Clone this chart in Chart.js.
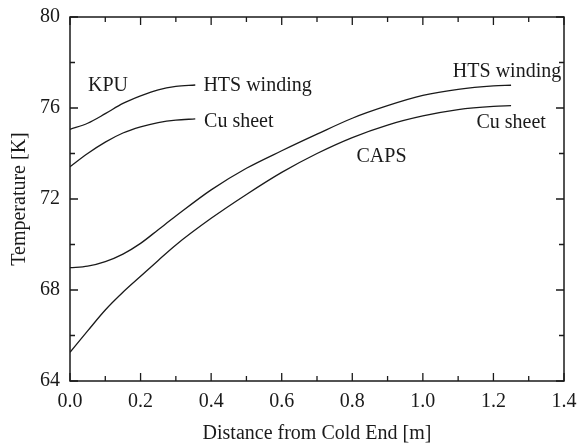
<!DOCTYPE html>
<html>
<head>
<meta charset="utf-8">
<script src="https://cdn.jsdelivr.net/npm/chart.js@4.4.0/dist/chart.umd.min.js"></script>
<style>
  html, body { margin: 0; padding: 0; background: #fff; }
  canvas { display: block; }
</style>
</head>
<body>
<canvas id="chart" width="579" height="444"></canvas>
<script>
// distance from cold end [m] and temperature [K]
const kpuX = [0, 0.05, 0.1, 0.15, 0.2, 0.25, 0.3, 0.355];
const kpuHts = [75.06, 75.33, 75.75, 76.2, 76.53, 76.8, 76.95, 77.01];
const kpuCu = [73.42, 74.0, 74.5, 74.9, 75.17, 75.36, 75.47, 75.52];

const capsX = [0, 0.05, 0.1, 0.15, 0.2, 0.25, 0.3, 0.4, 0.5, 0.6, 0.7, 0.8, 0.9, 1.0, 1.1, 1.2, 1.25];
const capsHts = [68.98, 69.05, 69.25, 69.58, 70.05, 70.65, 71.25, 72.4, 73.35, 74.12, 74.85, 75.55, 76.1, 76.55, 76.82, 76.97, 77.0];
const capsCu = [65.26, 66.2, 67.12, 67.9, 68.6, 69.3, 69.98, 71.15, 72.2, 73.17, 74.0, 74.7, 75.25, 75.65, 75.93, 76.07, 76.1];

const xTicks = [0, 0.2, 0.4, 0.6, 0.8, 1.0, 1.2, 1.4];
const yTicks = [64, 68, 72, 76, 80];

// text labels inside the plot (data coords, left edge / baseline)
const notes = [
    { text: 'KPU', x: 0.051, y: 76.73 },
    { text: 'HTS winding', x: 0.378, y: 76.76 },
    { text: 'Cu sheet', x: 0.38, y: 75.15 },
    { text: 'HTS winding', x: 1.085, y: 77.36 },
    { text: 'Cu sheet', x: 1.152, y: 75.11 },
    { text: 'CAPS', x: 0.812, y: 73.64 },
];

const FONT = 'Liberation Serif';
const INK = '#1a1a1a';

const toPoints = (xs, ys) => xs.map((x, i) => ({ x, y: ys[i] }));

// frame with inward ticks on all four sides
const frameTicks = {
    id: 'frameTicks',
    afterDraw(chart) {
        const { ctx, chartArea: a, scales: { x, y } } = chart;
        ctx.save();
        ctx.strokeStyle = INK;
        ctx.lineWidth = 1.5;
        ctx.strokeRect(a.left, a.top, a.right - a.left, a.bottom - a.top);
        ctx.lineWidth = 1.3;
        ctx.beginPath();
        for (let i = 0; i <= 14; i++) {
            const px = x.getPixelForValue(i / 10);
            const len = i % 2 === 0 ? 8 : 5;
            ctx.moveTo(px, a.bottom); ctx.lineTo(px, a.bottom - len);
            ctx.moveTo(px, a.top); ctx.lineTo(px, a.top + len);
        }
        for (let v = 64; v <= 80; v += 2) {
            const py = y.getPixelForValue(v);
            const len = v % 4 === 0 ? 8 : 5;
            ctx.moveTo(a.left, py); ctx.lineTo(a.left + len, py);
            ctx.moveTo(a.right, py); ctx.lineTo(a.right - len, py);
        }
        ctx.stroke();

        ctx.fillStyle = INK;
        ctx.font = '20px "' + FONT + '"';
        ctx.textAlign = 'left';
        ctx.textBaseline = 'alphabetic';
        notes.forEach(n => {
            ctx.fillText(n.text, x.getPixelForValue(n.x), y.getPixelForValue(n.y));
        });
        ctx.restore();
    }
};

const line = data => ({
    data,
    borderColor: INK,
    borderWidth: 1.3,
    pointRadius: 0,
    showLine: true,
    fill: false,
    cubicInterpolationMode: 'monotone',
});

new Chart(document.getElementById('chart'), {
    type: 'scatter',
    data: {
        datasets: [
            line(toPoints(kpuX, kpuHts)),
            line(toPoints(kpuX, kpuCu)),
            line(toPoints(capsX, capsHts)),
            line(toPoints(capsX, capsCu)),
        ]
    },
    options: {
        responsive: false,
        animation: false,
        layout: { padding: { top: 17, right: 15, left: 0, bottom: 0 } },
        plugins: { legend: { display: false }, tooltip: { enabled: false } },
        scales: {
            x: {
                type: 'linear',
                min: 0,
                max: 1.4,
                afterFit(scale) { scale.height = 63; },
                afterBuildTicks(scale) { scale.ticks = xTicks.map(value => ({ value })); },
                grid: { display: false },
                border: { display: false },
                ticks: {
                    padding: 1,
                    color: INK,
                    font: { family: FONT, size: 20 },
                    callback: v => Number(v).toFixed(1),
                },
                title: {
                    display: true,
                    text: 'Distance from Cold End [m]',
                    color: INK,
                    font: { family: FONT, size: 20, lineHeight: 1 },
                    padding: 0,
                },
            },
            y: {
                min: 64,
                max: 80,
                afterFit(scale) { scale.width = 70; },
                afterBuildTicks(scale) { scale.ticks = yTicks.map(value => ({ value })); },
                grid: { display: false },
                border: { display: false },
                ticks: {
                    padding: 2,
                    color: INK,
                    font: { family: FONT, size: 20 },
                },
                title: {
                    display: true,
                    text: 'Temperature [K]',
                    color: INK,
                    font: { family: FONT, size: 20, lineHeight: 1 },
                    padding: { top: 10, bottom: 0 },
                },
            },
        },
    },
    plugins: [frameTicks],
});
</script>
</body>
</html>
